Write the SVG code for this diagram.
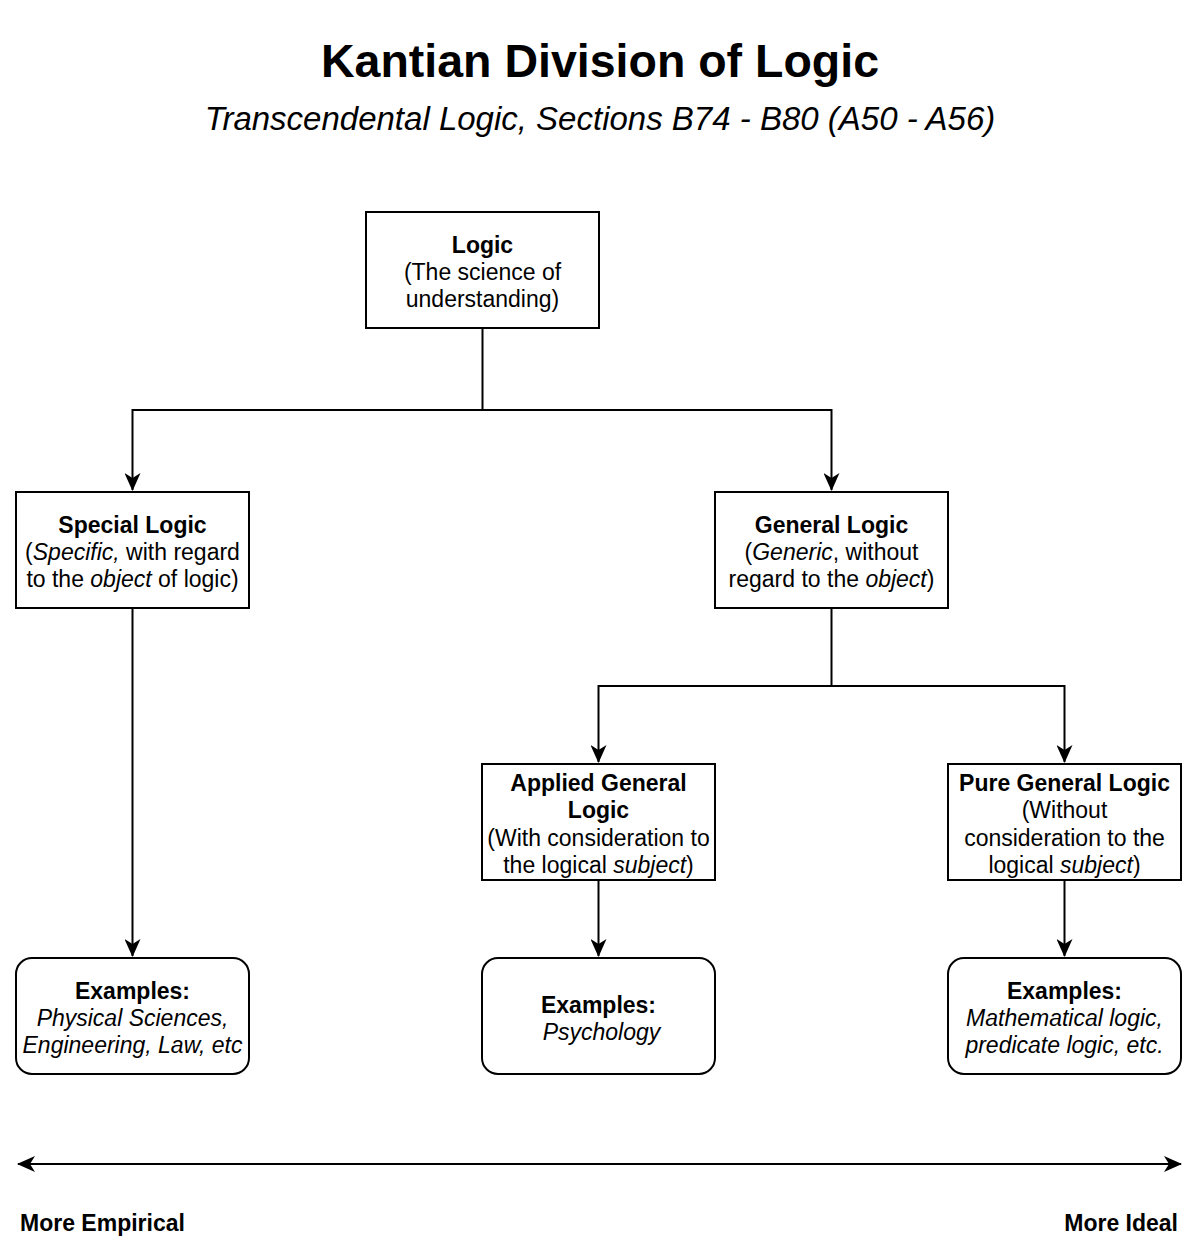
<svg xmlns="http://www.w3.org/2000/svg" width="1200" height="1243" viewBox="0 0 1200 1243">
<defs>
<marker id="arr" viewBox="0 0 18 16" refX="17" refY="8" markerWidth="18" markerHeight="16" markerUnits="userSpaceOnUse" orient="auto-start-reverse">
<path d="M0,0 L18,8 L0,16 L5,8 Z" fill="#000"/>
</marker>
<style>
.box{fill:#fff;stroke:#000;stroke-width:2}
.t{font-family:"Liberation Sans",Arial,sans-serif;font-size:23px;fill:#000;text-anchor:middle}
.b{font-weight:bold}
.i{font-style:italic}
.c{fill:none;stroke:#000;stroke-width:2}
</style>
</defs>
<rect width="1200" height="1243" fill="#fff"/>
<text x="600" y="77" class="t b" style="font-size:46.5px">Kantian Division of Logic</text>
<text x="600" y="130" class="t i" style="font-size:33px">Transcendental Logic, Sections B74 - B80 (A50 - A56)</text>
<g id="connectors">
<path class="c" d="M482.5,328 V410 H132.5 V490" marker-end="url(#arr)"/>
<path class="c" d="M482.5,410 H831.5 V490" marker-end="url(#arr)"/>
<path class="c" d="M831.5,608 V686 H598.5 V762" marker-end="url(#arr)"/>
<path class="c" d="M831.5,686 H1064.5 V762" marker-end="url(#arr)"/>
<path class="c" d="M132.5,608 V956" marker-end="url(#arr)"/>
<path class="c" d="M598.5,880 V956" marker-end="url(#arr)"/>
<path class="c" d="M1064.5,880 V956" marker-end="url(#arr)"/>
<path class="c" d="M18,1164 H1181" marker-start="url(#arr)" marker-end="url(#arr)"/>
</g>
<g id="logic">
<rect class="box" x="366" y="212" width="233" height="116"/>
<text class="t" x="482.5" y="253"><tspan class="b">Logic</tspan><tspan x="482.5" dy="27">(The science of</tspan><tspan x="482.5" dy="27">understanding)</tspan></text>
</g>
<g id="special">
<rect class="box" x="16" y="492" width="233" height="116"/>
<text class="t" x="132.5" y="533"><tspan class="b">Special Logic</tspan><tspan x="132.5" dy="27">(<tspan class="i">Specific,</tspan> with regard</tspan><tspan x="132.5" dy="27">to the <tspan class="i">object</tspan> of logic)</tspan></text>
</g>
<g id="general">
<rect class="box" x="715" y="492" width="233" height="116"/>
<text class="t" x="831.5" y="533"><tspan class="b">General Logic</tspan><tspan x="831.5" dy="27">(<tspan class="i">Generic</tspan>, without</tspan><tspan x="831.5" dy="27">regard to the <tspan class="i">object</tspan>)</tspan></text>
</g>
<g id="applied">
<rect class="box" x="482" y="764" width="233" height="116"/>
<text class="t" x="598.5" y="791"><tspan class="b">Applied General</tspan><tspan x="598.5" dy="27" class="b">Logic</tspan><tspan x="598.5" dy="28">(With consideration to</tspan><tspan x="598.5" dy="27">the logical <tspan class="i">subject</tspan>)</tspan></text>
</g>
<g id="pure">
<rect class="box" x="948" y="764" width="233" height="116"/>
<text class="t" x="1064.5" y="791"><tspan class="b">Pure General Logic</tspan><tspan x="1064.5" dy="27">(Without</tspan><tspan x="1064.5" dy="28">consideration to the</tspan><tspan x="1064.5" dy="27">logical <tspan class="i">subject</tspan>)</tspan></text>
</g>
<g id="ex-special">
<rect class="box" x="16" y="958" width="233" height="116" rx="16"/>
<text class="t" x="132.5" y="999"><tspan class="b">Examples:</tspan><tspan x="132.5" dy="27" class="i">Physical Sciences,</tspan><tspan x="132.5" dy="27" class="i">Engineering, Law, etc</tspan></text>
</g>
<g id="ex-applied">
<rect class="box" x="482" y="958" width="233" height="116" rx="16"/>
<text class="t" x="598.5" y="1013"><tspan class="b">Examples:</tspan><tspan x="601.5" dy="27" class="i">Psychology</tspan></text>
</g>
<g id="ex-pure">
<rect class="box" x="948" y="958" width="233" height="116" rx="16"/>
<text class="t" x="1064.5" y="999"><tspan class="b">Examples:</tspan><tspan x="1064.5" dy="27" class="i">Mathematical logic,</tspan><tspan x="1064.5" dy="27" class="i">predicate logic, etc.</tspan></text>
</g>
<text class="t b" x="20" y="1231" style="text-anchor:start">More Empirical</text>
<text class="t b" x="1178" y="1231" style="text-anchor:end">More Ideal</text>
</svg>
